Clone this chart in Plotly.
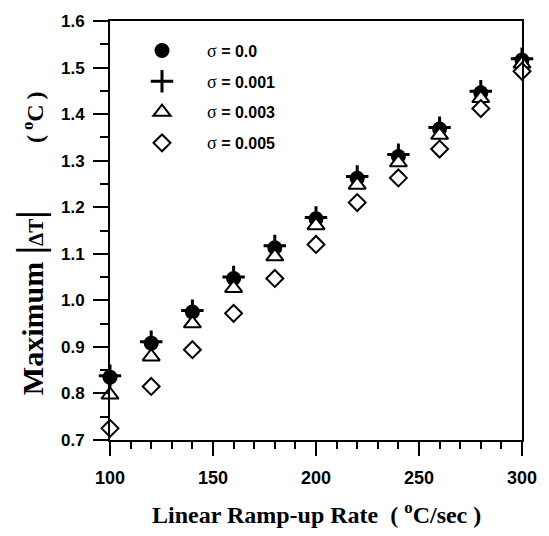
import plotly.graph_objects as go

rate = [100, 120, 140, 160, 180, 200, 220, 240, 260, 280, 300]
sig_00 = [0.835, 0.908, 0.975, 1.047, 1.113, 1.175, 1.262, 1.309, 1.368, 1.446, 1.516]
sig_001 = [0.838, 0.911, 0.978, 1.050, 1.117, 1.178, 1.266, 1.313, 1.371, 1.449, 1.519]
sig_003 = [0.797, 0.879, 0.950, 1.026, 1.094, 1.161, 1.248, 1.296, 1.355, 1.434, 1.508]
sig_005 = [0.725, 0.815, 0.894, 0.972, 1.047, 1.120, 1.210, 1.263, 1.325, 1.412, 1.492]

SIG = "<span style='font-family:Liberation Serif;font-weight:normal;font-size:18px'>σ</span>"
names = [SIG + " = 0.0", SIG + " = 0.001", SIG + " = 0.003", SIG + " = 0.005"]

fig = go.Figure()
fig.add_trace(go.Scatter(x=rate, y=sig_00, mode="markers", name=names[0], legendgroup="a",
                         marker=dict(symbol="circle", size=15, color="black", line=dict(width=0)),
                         cliponaxis=False))
fig.add_trace(go.Scatter(x=rate, y=sig_001, mode="markers", name=names[1], legendgroup="b",
                         marker=dict(symbol="cross-thin", size=16, color="black",
                                     line=dict(width=3, color="black")),
                         cliponaxis=False))
fig.add_trace(go.Scatter(x=rate, y=sig_003, mode="markers", name=names[2], legendgroup="c",
                         marker=dict(symbol="triangle-up", size=15, color="white",
                                     line=dict(width=2, color="black")),
                         cliponaxis=False))
fig.add_trace(go.Scatter(x=rate, y=sig_005, mode="markers", name=names[3], legendgroup="d",
                         marker=dict(symbol="diamond", size=13, color="white",
                                     line=dict(width=2, color="black")),
                         cliponaxis=False))

BAR = "<span style='font-size:38px'>|</span>"
ytitle = ("Maximum " + BAR + "<span style='font-size:21px'>ΔT</span>" + BAR +
          "         <span style='font-size:24px'>(\u2009<sup>o</sup>C\u2009)</span>")

fig.update_layout(
    width=549, height=536,
    margin=dict(l=110, r=17, t=17, b=96),
    paper_bgcolor="white", plot_bgcolor="white",
    showlegend=True,
    legend=dict(x=0.017, y=0.970, xanchor="left", yanchor="top",
                bgcolor="rgba(0,0,0,0)", itemwidth=80, tracegroupgap=7,
                font=dict(family="Liberation Sans", size=16, color="black", weight="bold")),
    xaxis=dict(range=[100, 300], dtick=50, tick0=100, ticks="outside", ticklen=14, tickwidth=2,
               tickcolor="black", showline=True, linewidth=2, linecolor="black", mirror=True,
               showgrid=False, zeroline=False, ticklabelstandoff=6,
               tickfont=dict(family="Liberation Sans", size=18, color="black", weight="bold"),
               minor=dict(dtick=10, ticks="outside", ticklen=7, tickwidth=2, tickcolor="black",
                          showgrid=False)),
    yaxis=dict(range=[0.7, 1.6], dtick=0.1, tick0=0.7, tickformat=".1f", ticks="outside",
               ticklen=15, tickwidth=2, tickcolor="black", showline=True, linewidth=2,
               linecolor="black", mirror=True, showgrid=False, zeroline=False, ticklabelstandoff=5,
               tickfont=dict(family="Liberation Sans", size=17, color="black", weight="bold"),
               minor=dict(dtick=0.05, ticks="outside", ticklen=8, tickwidth=2, tickcolor="black",
                          showgrid=False)),
    annotations=[
        dict(text="Linear Ramp-up Rate  ( <sup>o</sup>C/sec )", xref="paper", yref="paper",
             x=0.5, y=-0.175, xanchor="center", yanchor="middle", showarrow=False,
             font=dict(family="Liberation Serif", size=24, color="black", weight="bold")),
        dict(text=ytitle, xref="paper", yref="paper", textangle=-90,
             x=-0.194, y=0.47, xanchor="center", yanchor="middle", showarrow=False,
             font=dict(family="Liberation Serif", size=30, color="black", weight="bold")),
    ],
)

fig.write_html("out.html")
